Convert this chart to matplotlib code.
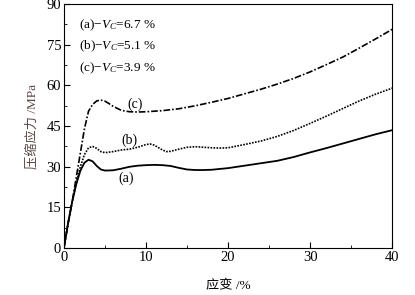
import matplotlib
matplotlib.use('Agg')
import matplotlib.pyplot as plt
from matplotlib.ticker import MultipleLocator

# curve (a), Vc = 6.7 %
strain_a = [0, 0.5, 1.0, 1.5, 2.0, 2.5, 3.0, 3.5, 4.0, 4.5, 5.0, 6, 7, 8, 9, 10, 11, 12, 13,
            14, 15, 16, 17, 18, 20, 22, 24, 26, 28, 30, 32, 34, 36, 38, 40]
stress_a = [0, 9, 17, 23.5, 28.5, 31.5, 32.6, 32.0, 30.3, 29.0, 28.6, 28.7, 29.3, 30.0, 30.4,
            30.6, 30.7, 30.6, 30.3, 29.6, 29.0, 28.8, 28.8, 28.9, 29.5, 30.4, 31.3, 32.2, 33.6,
            35.3, 36.9, 38.6, 40.3, 42.0, 43.5]

# curve (b), Vc = 5.1 %
strain_b = [0, 0.5, 1, 1.5, 2, 2.5, 3, 3.5, 4, 4.5, 5, 6, 7, 8, 9, 10, 10.5, 11, 12, 12.5, 13,
            14, 15, 16, 17, 18, 19, 20, 22, 24, 26, 28, 30, 32, 34, 36, 38, 40]
stress_b = [0, 9, 17, 24, 30, 34.5, 37, 37.5, 36.8, 35.6, 35.2, 35.6, 36.2, 36.5, 37.2, 38.2,
            38.4, 38.0, 36.2, 35.6, 35.7, 36.5, 37.2, 37.4, 37.2, 37.0, 36.9, 37.0, 38.2, 39.5,
            41.2, 43.4, 46.0, 48.7, 51.5, 54.3, 56.8, 59.0]

# curve (c), Vc = 3.9 %
strain_c = [0, 0.5, 1, 1.5, 2, 2.5, 3, 3.5, 4, 4.5, 5, 5.5, 6, 7, 8, 9, 10, 12, 14, 16, 18, 20,
            22, 24, 26, 28, 30, 32, 34, 36, 38, 40]
stress_c = [0, 9, 17, 26, 35, 44, 50.5, 53, 54.3, 54.6, 54.2, 53.3, 52.3, 50.8, 50.3, 50.2,
            50.3, 50.7, 51.4, 52.5, 53.8, 55.2, 56.9, 58.6, 60.5, 62.6, 65.0, 67.7, 70.5, 73.8,
            77.2, 80.7]

legend_lines = ['(a)\u2212$V_C$=6.7 %', '(b)\u2212$V_C$=5.1 %', '(c)\u2212$V_C$=3.9 %']

plt.rcParams['font.family'] = ['Liberation Serif', 'Noto Sans CJK SC']
plt.rcParams['mathtext.fontset'] = 'custom'
plt.rcParams['mathtext.it'] = 'Liberation Serif:italic'
plt.rcParams['mathtext.rm'] = 'Liberation Serif'

fig = plt.figure(figsize=(4.15, 2.95), dpi=100)
ax = fig.add_axes([0.154, 0.159, 0.791, 0.827])

ax.plot(strain_a, stress_a, color='black', lw=1.3, ls='-')
ax.plot(strain_b, stress_b, color='black', lw=1.2, ls=(0, (1, 0.8)))
ax.plot(strain_c, stress_c, color='black', lw=1.2, ls=(0, (4, 1.2, 1, 1.2)))

ax.text(7.6, 25.8, '(a)', fontsize=10, ha='center', va='center')
ax.text(8.0, 39.8, '(b)', fontsize=10, ha='center', va='center')
ax.text(8.7, 53.0, '(c)', fontsize=10, ha='center', va='center')

for i, s in enumerate(legend_lines):
    ax.text(1.8, 82.3 - 8.0 * i, s, fontsize=9.5, ha='left', va='center')

ax.set_xlim(0, 40)
ax.set_ylim(0, 90)
ax.xaxis.set_major_locator(MultipleLocator(10))
ax.xaxis.set_minor_locator(MultipleLocator(5))
ax.yaxis.set_major_locator(MultipleLocator(15))
ax.yaxis.set_minor_locator(MultipleLocator(7.5))
ax.tick_params(which='both', direction='in', labelsize=10.5, pad=2)
ax.tick_params(which='major', length=4)
ax.tick_params(which='minor', length=2.5)

ax.set_xlabel('应变 /%', fontsize=9.5, labelpad=12)
ax.set_ylabel('压缩应力 /MPa', fontsize=9.5, color='#5a4a45', labelpad=6)

fig.savefig('out.png', dpi=100)
